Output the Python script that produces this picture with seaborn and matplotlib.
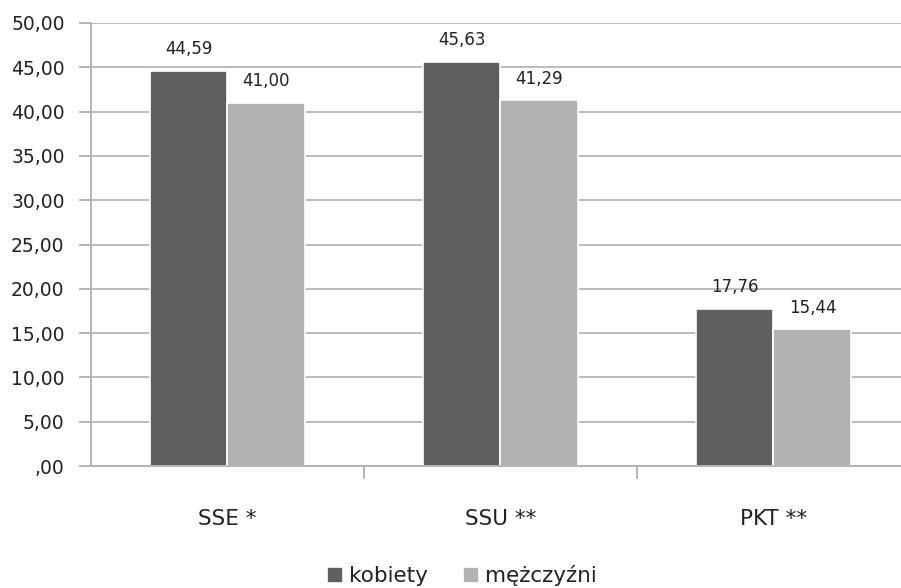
import matplotlib
matplotlib.use("Agg")
import matplotlib.pyplot as plt
import matplotlib.ticker as mticker
import pandas as pd
import seaborn as sns
import numpy as np

categories = ["SSE *", "SSU **", "PKT **"]
kobiety = [44.59, 45.63, 17.76]
mezczyzni = [41.00, 41.29, 15.44]
groups = ["kobiety", "mężczyźni"]
yticks = [0, 5, 10, 15, 20, 25, 30, 35, 40, 45, 50]

df = pd.DataFrame({
    "kategoria": categories * 2,
    "grupa": [groups[0]] * 3 + [groups[1]] * 3,
    "wartosc": kobiety + mezczyzni,
})

sns.set_theme(style="white")
plt.rcParams["font.family"] = ["DejaVu Sans"]

fig = plt.figure(figsize=(9.01, 5.88), dpi=100)
ax = fig.add_axes([91 / 901, 1 - 466 / 588, 819 / 901, (466 - 23) / 588])

sns.barplot(data=df, x="kategoria", y="wartosc", hue="grupa", order=categories,
            hue_order=groups, palette=["#5f5f5f", "#b2b2b2"], width=0.57,
            edgecolor="white", linewidth=1.2, ax=ax, legend=True)

ax.set_ylim(0, 50)
ax.set_xlim(-0.5, 2.5)
ax.set_yticks(yticks)

def fmt(v, pos):
    s = f"{v:.2f}".replace(".", ",")
    if s.startswith("0,"):
        s = s[1:]
    return s

ax.yaxis.set_major_formatter(mticker.FuncFormatter(fmt))
ax.yaxis.grid(True, color="#b5b5b5", linewidth=1.3)
ax.set_axisbelow(True)
ax.set_xlabel("")
ax.set_ylabel("")

for s in ["top", "right"]:
    ax.spines[s].set_visible(False)
for s in ["left", "bottom"]:
    ax.spines[s].set_color("#b0b0b0")
    ax.spines[s].set_linewidth(1.3)

ax.tick_params(axis="y", which="major", length=9, width=1.3, color="#b0b0b0",
               labelsize=13.5, labelcolor="#222222", pad=10, left=True)
ax.tick_params(axis="x", which="major", length=0, labelsize=15.5,
               labelcolor="#222222", pad=31)
ax.set_xticks([0.5, 1.5], minor=True)
ax.tick_params(axis="x", which="minor", length=9, width=1.3, color="#b0b0b0",
               bottom=True)

for cont in ax.containers:
    ax.bar_label(cont, labels=[fmt(v, None) for v in cont.datavalues],
                 padding=9, fontsize=12, color="#222222")

handles, labels = ax.get_legend_handles_labels()
ax.get_legend().remove()
fig.legend(handles, labels, loc="lower center", bbox_to_anchor=(462 / 901, -0.03),
           ncol=2, frameon=False, fontsize=15.5, handlelength=0.75, handleheight=0.75,
           handletextpad=0.3, columnspacing=1.6, labelcolor="#222222")

fig.savefig("out.png", dpi=100)
